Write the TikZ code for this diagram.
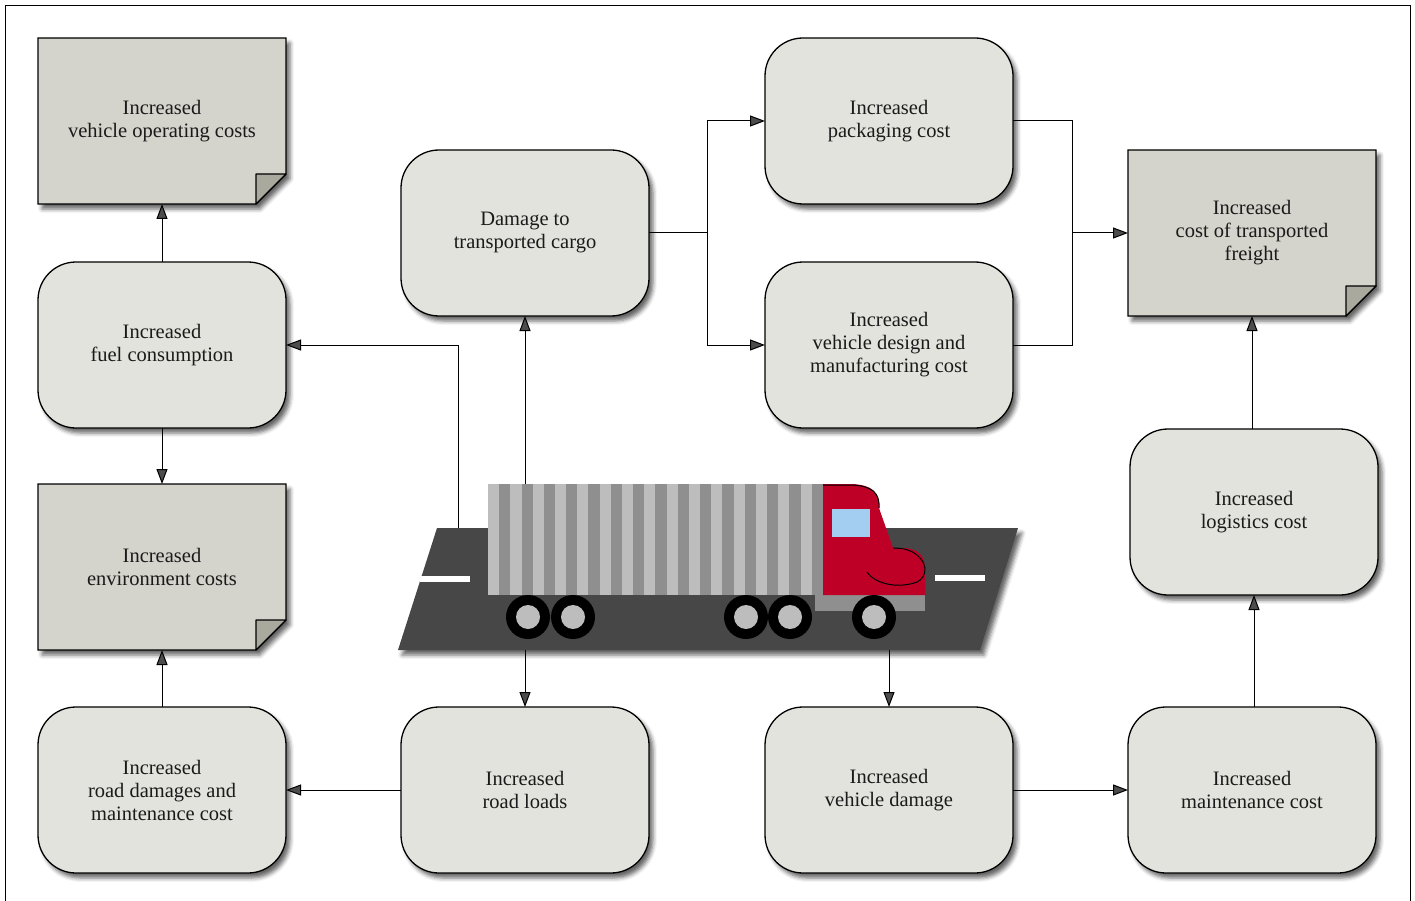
\documentclass[tikz,border=0pt]{standalone}
\usepackage{fontspec}
\setmainfont{Liberation Serif}
\usepackage{tikz}
\usetikzlibrary{arrows.meta,shadows.blur}

\definecolor{boxgrey}{HTML}{E3E3DD}
\definecolor{docgrey}{HTML}{D4D4CC}
\definecolor{foldgrey}{HTML}{A9A99E}
\definecolor{roadgrey}{HTML}{474747}
\definecolor{stripelight}{HTML}{BDBDBD}
\definecolor{stripedark}{HTML}{8F8F8F}
\definecolor{cabred}{HTML}{BE0027}
\definecolor{windowblue}{HTML}{A3CEF1}
\definecolor{inkgrey}{HTML}{1A1A1A}

\tikzset{
  softshadow/.style={blur shadow={shadow xshift=4pt, shadow yshift=-5pt, shadow blur radius=4pt, shadow opacity=60}},
  costbox/.style={draw, line width=1.3pt, fill=boxgrey, rounded corners=38pt,
    minimum width=248pt, minimum height=166pt, inner sep=0pt, outer sep=0pt,
    align=center, text=inkgrey, font=\fontsize{20.5}{23}\selectfont, softshadow},
  doctext/.style={minimum width=248pt, minimum height=166pt, inner sep=0pt, outer sep=0pt,
    align=center, text=inkgrey, font=\fontsize{20.5}{23}\selectfont},
  docfill/.style={draw, line width=1.3pt, fill=docgrey, softshadow},
  foldfill/.style={draw, line width=1.3pt, fill=foldgrey, line join=round},
  arr/.style={-{Triangle[length=15pt,width=11pt]}, line width=1pt},
}

% note with folded corner: name, centre, text
\newcommand{\docnote}[3]{%
  \path[docfill] (#2) ++(-124,-83) -- ++(248,0) -- ++(0,136) -- ++(-30,30) -- ++(-218,0) -- cycle;
  \node[doctext] (#1) at (#2) {#3};
  \draw[foldfill] (#1.south east) ++(-30,0) -- ++(0,-30) -- ++(30,0) -- cycle;
}

\begin{document}
\begin{tikzpicture}[x=1pt, y=-1pt]

	\useasboundingbox (0,0) rectangle (1415,901);
	\draw[line width=1pt] (5,905) -- (5,6) -- (1410,6) -- (1410,905);

	% notes
	\docnote{voc}{162,121}{Increased\\vehicle operating costs}
	\docnote{freight}{1252,233}{Increased\\cost of transported\\freight}
	\docnote{env}{162,567}{Increased\\environment costs}

	% boxes
	\node[costbox] (pack) at (889,121) {Increased\\packaging cost};
	\node[costbox] (cargo) at (525,233) {Damage to\\transported cargo};
	\node[costbox] (fuel) at (162,345) {Increased\\fuel consumption};
	\node[costbox] (design) at (889,345) {Increased\\vehicle design and\\manufacturing cost};
	\node[costbox] (logi) at (1254,512) {Increased\\logistics cost};
	\node[costbox] (roaddam) at (162,790) {Increased\\road damages and\\maintenance cost};
	\node[costbox] (loads) at (525,790) {Increased\\road loads};
	\node[costbox] (vdam) at (889,790) {Increased\\vehicle damage};
	\node[costbox] (maint) at (1252,790) {Increased\\maintenance cost};

	% truck on the road
	\coordinate (roadtop) at (458,528);
	\coordinate (cargotop) at (525,484);
	\coordinate (roadbotA) at (525,650);
	\coordinate (roadbotB) at (889,650);

	\draw[arr] (roadtop) |- (fuel);
	\draw[arr] (cargotop) -- (cargo);

	\fill[roadgrey, softshadow] (398,650) -- (437,528) -- (1018,528) -- (980,650) -- cycle;
	\fill[white] (420,576) rectangle (470,582);
	\fill[white] (935,575) rectangle (985,581);

	\foreach \i in {0,...,14} {
		\fill[stripelight] ({488+\i*22.33},484) rectangle +(11.17,111);
		\fill[stripedark] ({499.17+\i*22.33},484) rectangle +(11.17,111);
	}
	\fill[stripedark] (815,595) rectangle (925,611);
	\fill[cabred] (823,484) -- (852,484) .. controls (872,485) and (880,492) .. (879,508)
		-- (893,548) -- (905,548) .. controls (918,549) and (925,556) .. (925,568)
		-- (925,595) -- (823,595) -- cycle;
	\draw[line width=1pt] (823,485) -- (852,485) .. controls (872,486) and (880,493) .. (879,508);
	\draw[line width=1pt] (867,572) .. controls (875,584) and (898,589) .. (917,582)
		.. controls (927,577) and (927,565) .. (920,558) .. controls (914,551) and (905,548) .. (893,548);
	\fill[windowblue] (832,509) rectangle (870,537);
	\foreach \x in {528,573,746,790,874} {
		\fill[black] (\x,617) circle (22pt);
		\fill[stripelight] (\x,617) circle (12pt);
	}

	% connectors
	\coordinate (split) at (707,233);
	\coordinate (fork) at (1072,233);
	\draw[arr] (voc |- fuel.north) -- (voc);
	\draw[arr] (fuel) -- (env);
	\draw[arr] (roaddam) -- (env);
	\draw[arr] (loads) -- (roaddam);
	\draw[arr] (roadbotA) -- (loads);
	\draw[arr] (roadbotB) -- (vdam);
	\draw[arr] (vdam) -- (maint);
	\draw[arr] (maint.north -| logi.north) -- (logi);
	\draw[arr] (logi.north -| freight.south) -- (freight.south);
	\draw[line width=1pt] (cargo.east) -- (split);
	\draw[arr] (split) |- (pack);
	\draw[arr] (split) |- (design);
	\draw[line width=1pt] (pack.east) -| (fork) |- (design.east);
	\draw[arr] (fork) -- (freight);

\end{tikzpicture}
\end{document}
